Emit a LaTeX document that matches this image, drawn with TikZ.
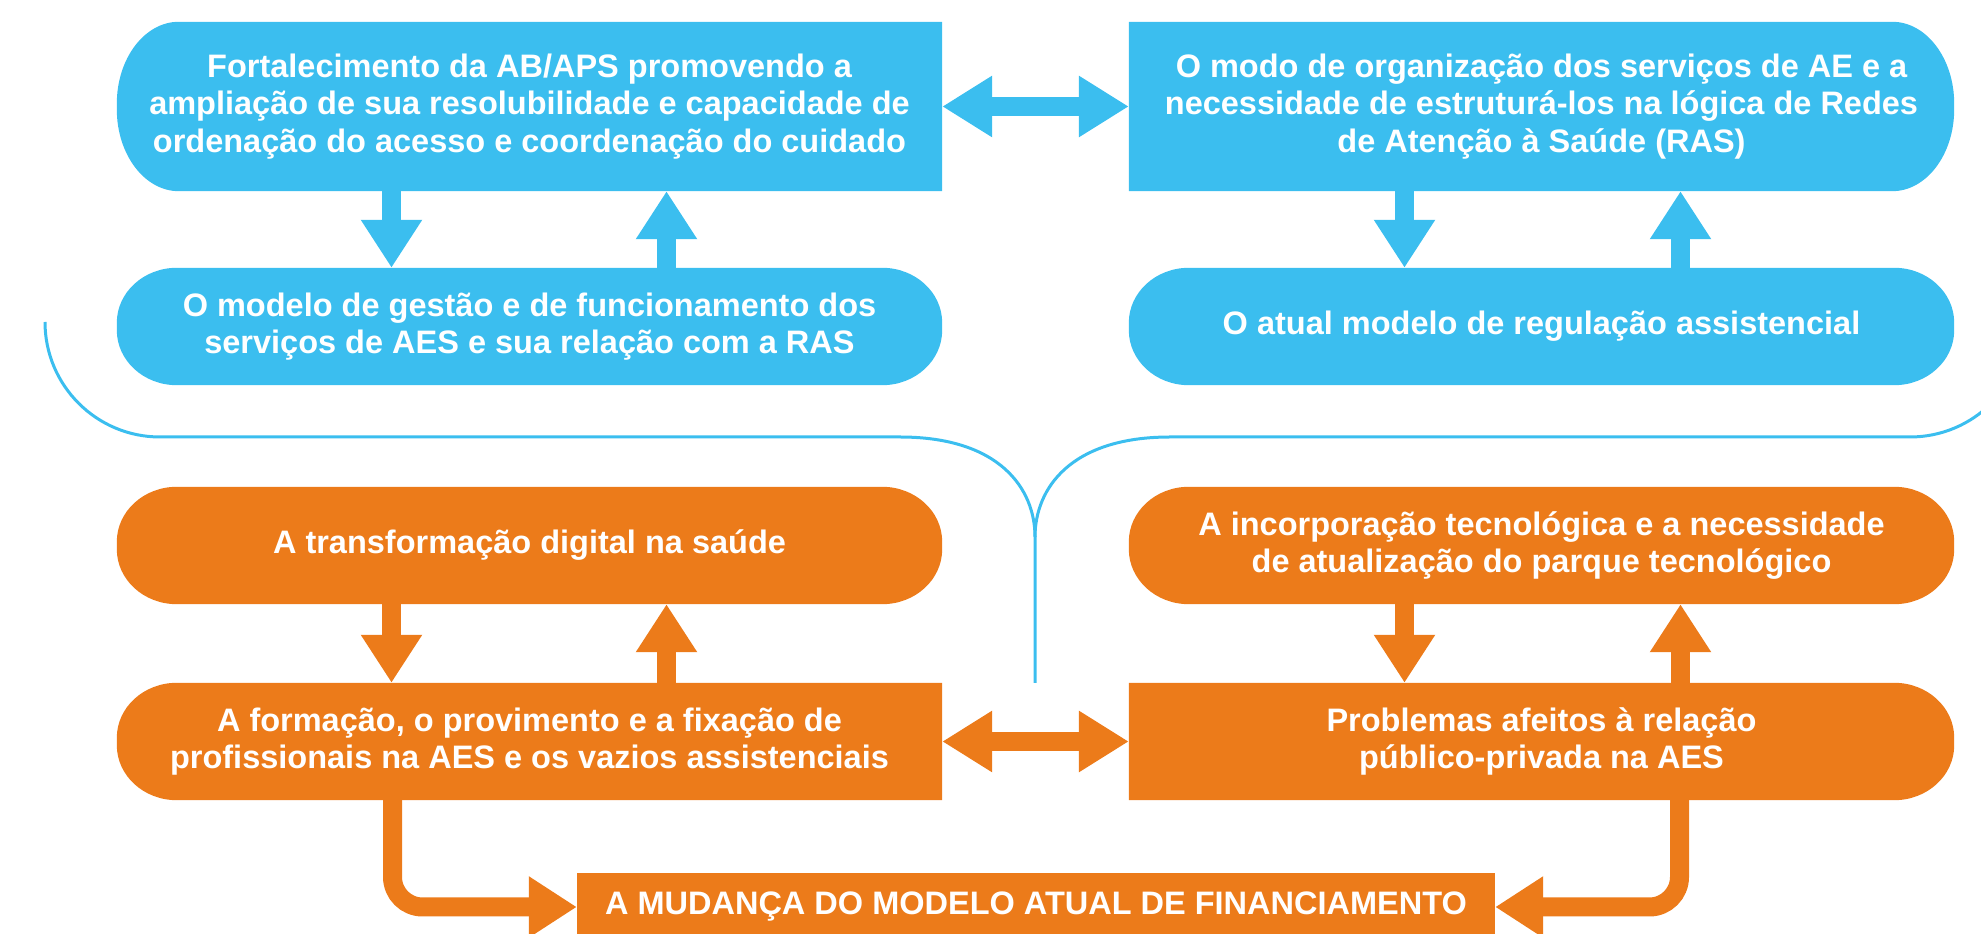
\documentclass[tikz,border=0pt]{standalone}
\usepackage{fontspec}
\setmainfont{Liberation Sans}
\usetikzlibrary{arrows.meta,calc,backgrounds}
\definecolor{cblue}{HTML}{3BBEEF}
\definecolor{corange}{HTML}{EC7B1A}
% left side rounded, right side square
\newcommand\fillL[4]{\fill[#2] (#1.north east) -- ($(#1.north west)+(#3pt,0pt)$) arc[start angle=90,end angle=180,x radius=#3pt,y radius=#4pt] -- ($(#1.south west)+(0pt,#4pt)$) arc[start angle=180,end angle=270,x radius=#3pt,y radius=#4pt] -- (#1.south east) -- cycle;}
% right side rounded, left side square
\newcommand\fillR[4]{\fill[#2] (#1.north west) -- ($(#1.north east)-(#3pt,0pt)$) arc[start angle=90,end angle=0,x radius=#3pt,y radius=#4pt] -- ($(#1.south east)+(0pt,#4pt)$) arc[start angle=0,end angle=-90,x radius=#3pt,y radius=#4pt] -- (#1.south west) -- cycle;}
% both sides rounded
\newcommand\fillLR[4]{\fill[#2] ($(#1.north east)-(#3pt,0pt)$) arc[start angle=90,end angle=0,x radius=#3pt,y radius=#4pt] -- ($(#1.south east)+(0pt,#4pt)$) arc[start angle=0,end angle=-90,x radius=#3pt,y radius=#4pt] -- ($(#1.south west)+(#3pt,0pt)$) arc[start angle=270,end angle=180,x radius=#3pt,y radius=#4pt] -- ($(#1.north west)-(0pt,#4pt)$) arc[start angle=180,end angle=90,x radius=#3pt,y radius=#4pt] -- cycle;}
\begin{document}
\begin{tikzpicture}[x=1pt,y=1pt,
  txt/.style={inner sep=0pt, text=white, font=\fontsize{32.5}{37.5}\selectfont\bfseries, align=center},
  bigbox/.style={txt, minimum width=825pt, minimum height=169pt},
  rowbox/.style={txt, minimum width=825pt, minimum height=117pt},
  blk/.style={line width=19pt, -{Triangle[width=58pt,length=48pt]}},
  dbl/.style={line width=19pt, {Triangle[width=58pt,length=50pt]}-{Triangle[width=58pt,length=50pt]}},
  bracel/.style={draw=cblue, line width=3pt}]
\useasboundingbox (0,0) rectangle (1981,934);
\clip (0,0) rectangle (1981,934);

% blue nodes
\node[bigbox] (A) at (529.5,827.5) {Fortalecimento da AB/APS promovendo a\\ampliação de sua resolubilidade e capacidade de\\ordenação do acesso e coordenação do cuidado};
\node[bigbox] (B) at (1541.5,827.5) {O modo de organização dos serviços de AE e a\\necessidade de estruturá-los na lógica de Redes\\de Atenção à Saúde (RAS)};
\node[rowbox] (C) at (529.5,607.5) {O modelo de gestão e de funcionamento dos\\serviços de AES e sua relação com a RAS};
\node[rowbox] (D) at (1541.5,607.5) {O atual modelo de regulação assistencial};

% orange nodes
\node[rowbox] (E) at (529.5,388.5) {A transformação digital na saúde};
\node[rowbox] (F) at (1541.5,388.5) {A incorporação tecnológica e a necessidade\\de atualização do parque tecnológico};
\node[rowbox] (G) at (529.5,192.5) {A formação, o provimento e a fixação de\\profissionais na AES e os vazios assistenciais};
\node[rowbox] (H) at (1541.5,192.5) {Problemas afeitos à relação\\público-privada na AES};
\node[txt, minimum width=918pt, minimum height=68pt] (I) at (1036,27) {A MUDANÇA DO MODELO ATUAL DE FINANCIAMENTO};

\begin{scope}[on background layer]
  \fillL{A}{cblue}{62}{82}
  \fillR{B}{cblue}{62}{82}
  \fillLR{C}{cblue}{60}{55}
  \fillLR{D}{cblue}{60}{55}
  \fillLR{E}{corange}{60}{55}
  \fillLR{F}{corange}{60}{55}
  \fillL{G}{corange}{60}{55}
  \fillR{H}{corange}{60}{55}
  \fill[corange] (I.south west) rectangle (I.north east);
\end{scope}

% blue arrows
\draw[blk, draw=cblue] ([xshift=-138pt]A.south) -- ([xshift=-138pt]C.north);
\draw[blk, draw=cblue] ([xshift=137pt]C.north) -- ([xshift=137pt]A.south);
\draw[blk, draw=cblue] ([xshift=-137pt]B.south) -- ([xshift=-137pt]D.north);
\draw[blk, draw=cblue] ([xshift=139pt]D.north) -- ([xshift=139pt]B.south);
\draw[dbl, draw=cblue] (A.east) -- (B.west);

% orange arrows
\draw[blk, draw=corange] ([xshift=-138pt]E.south) -- ([xshift=-138pt]G.north);
\draw[blk, draw=corange] ([xshift=137pt]G.north) -- ([xshift=137pt]E.south);
\draw[blk, draw=corange] ([xshift=-137pt]F.south) -- ([xshift=-137pt]H.north);
\draw[blk, draw=corange] ([xshift=139pt]H.north) -- ([xshift=139pt]F.south);
\draw[dbl, draw=corange] (G.east) -- (H.west);
\draw[blk, draw=corange, rounded corners=30pt] ([xshift=-137pt]G.south) |- (I.west);
\draw[blk, draw=corange, rounded corners=30pt] ([xshift=138pt]H.south) |- (I.east);

% blue bracket
\coordinate (bl) at (45,612);
\coordinate (vtx) at (1035,397);
\coordinate (vend) at (1035,251);
\draw[bracel] (bl) arc[start angle=180,end angle=270,radius=115pt] -- (900,497) .. controls (1000,497) and (1035,445) .. (vtx) -- (vend);
\draw[bracel] (vtx) .. controls (1035,445) and (1070,497) .. (1170,497) -- (1910,497) arc[start angle=270,end angle=360,radius=115pt];
\end{tikzpicture}
\end{document}
